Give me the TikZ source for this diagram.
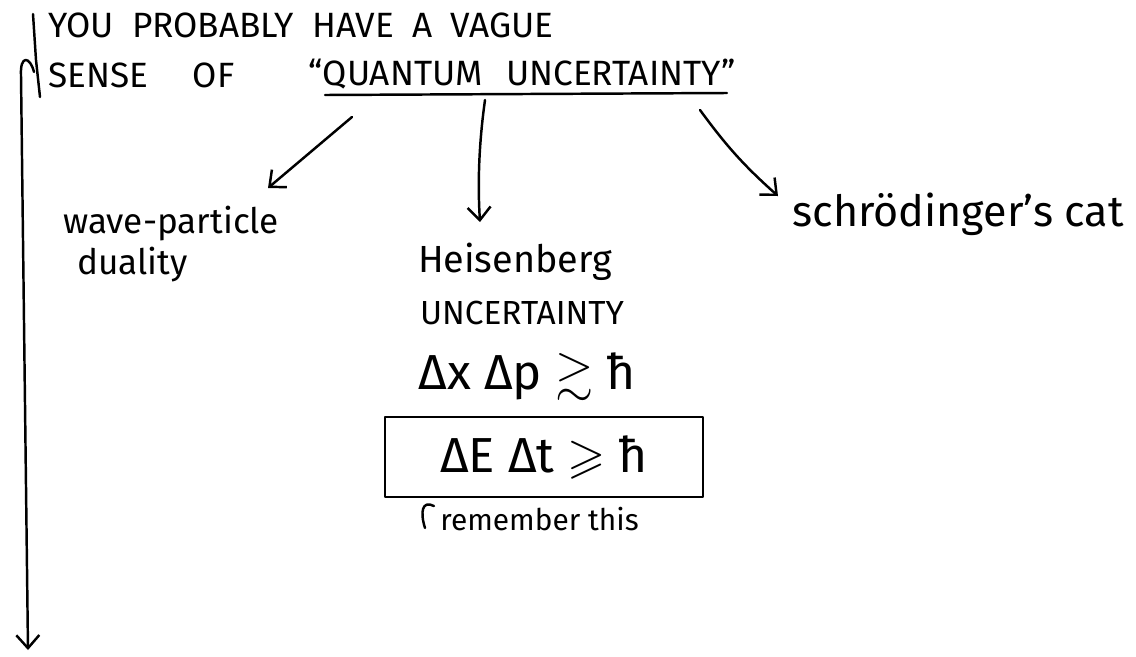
\documentclass[tikz,border=0pt]{standalone}
\usepackage{amsmath,amssymb}
\usepackage{fontspec}
\setmainfont{Fira Sans}
\usetikzlibrary{arrows.meta,positioning}

\begin{document}
\begin{tikzpicture}[x=0.02cm,y=-0.02cm,
  pen/.style={line width=1.4pt,line cap=round,line join=round},
  arr/.style={pen,-{Straight Barb[length=2.6mm,width=4.6mm]}},
  caps/.style={inner sep=0pt,font=\fontsize{20}{23}\selectfont},
  word/.style={inner sep=0pt,align=left,font=\fontsize{20}{23}\selectfont},
  eq/.style={inner sep=0pt,font=\fontsize{28}{30}\selectfont}]
  \useasboundingbox (0,0) rectangle (1136,656);
  % heading, with the long bar down the left side
  \draw[pen] (33,14) -- (36,60) -- (40,97);
  \draw[arr] (34,72) .. controls (30,56) and (20,55) .. (21,75) -- (28,650);
  \node[caps,anchor=west] (l1) at (48,25) {YOU\hspace{0.25em} PROBABLY\hspace{0.25em} HAVE\hspace{0.25em} A\hspace{0.25em} VAGUE};
  \node[caps,anchor=west] (l2) at (48,75) {SENSE\hspace{1em} OF};
  \node[caps] (qu) at (522,74) {``QUANTUM\hspace{0.4em} UNCERTAINTY''};
  \coordinate (u0) at (325,95);
  \coordinate (u1) at (727,93);
  \draw[pen] (u0) -- (u1);
  % the three branches
  \node[word,anchor=north west] (wave) at (63,206) {wave-particle\\\hspace{8pt}duality};
  \node[word,font=\fontsize{21.5}{24}\selectfont] (heis) at (515,262) {Heisenberg};
  \node[caps,font=\fontsize{19}{21}\selectfont] (unc) at (522,313) {UNCERTAINTY};
  \node[word,anchor=west,font=\fontsize{24.5}{27}\selectfont] (cat) at (792,214) {schrödinger's cat};
  \coordinate (s1) at (352,117);
  \coordinate (t1) at (268,188);
  \coordinate (s2) at (485,100);
  \coordinate (t2) at (480,222);
  \coordinate (s3) at (700,110);
  \coordinate (t3) at (778,196);
  \draw[arr] (s1) -- (t1);
  \draw[arr] (s2) .. controls (478,150) and (478,190) .. (t2);
  \draw[arr] (s3) to[bend right=6] (t3);
  % relations
  \node[eq] (dxdp) at (527,377) {Δx Δp $\gtrsim$ ħ};
  \node[eq,draw,pen,minimum width=6.36cm,minimum height=1.6cm] (box) at (544,457) {ΔE Δt $\geqslant$ ħ};
  \node[word,anchor=west,font=\fontsize{17}{19}\selectfont] (rem) at (440,519) {remember this};
  \coordinate (h0) at (434,506);
  \coordinate (h1) at (425,528);
  \draw[pen] (h0) .. controls (422,500) and (420,512) .. (h1);
\end{tikzpicture}
\end{document}
